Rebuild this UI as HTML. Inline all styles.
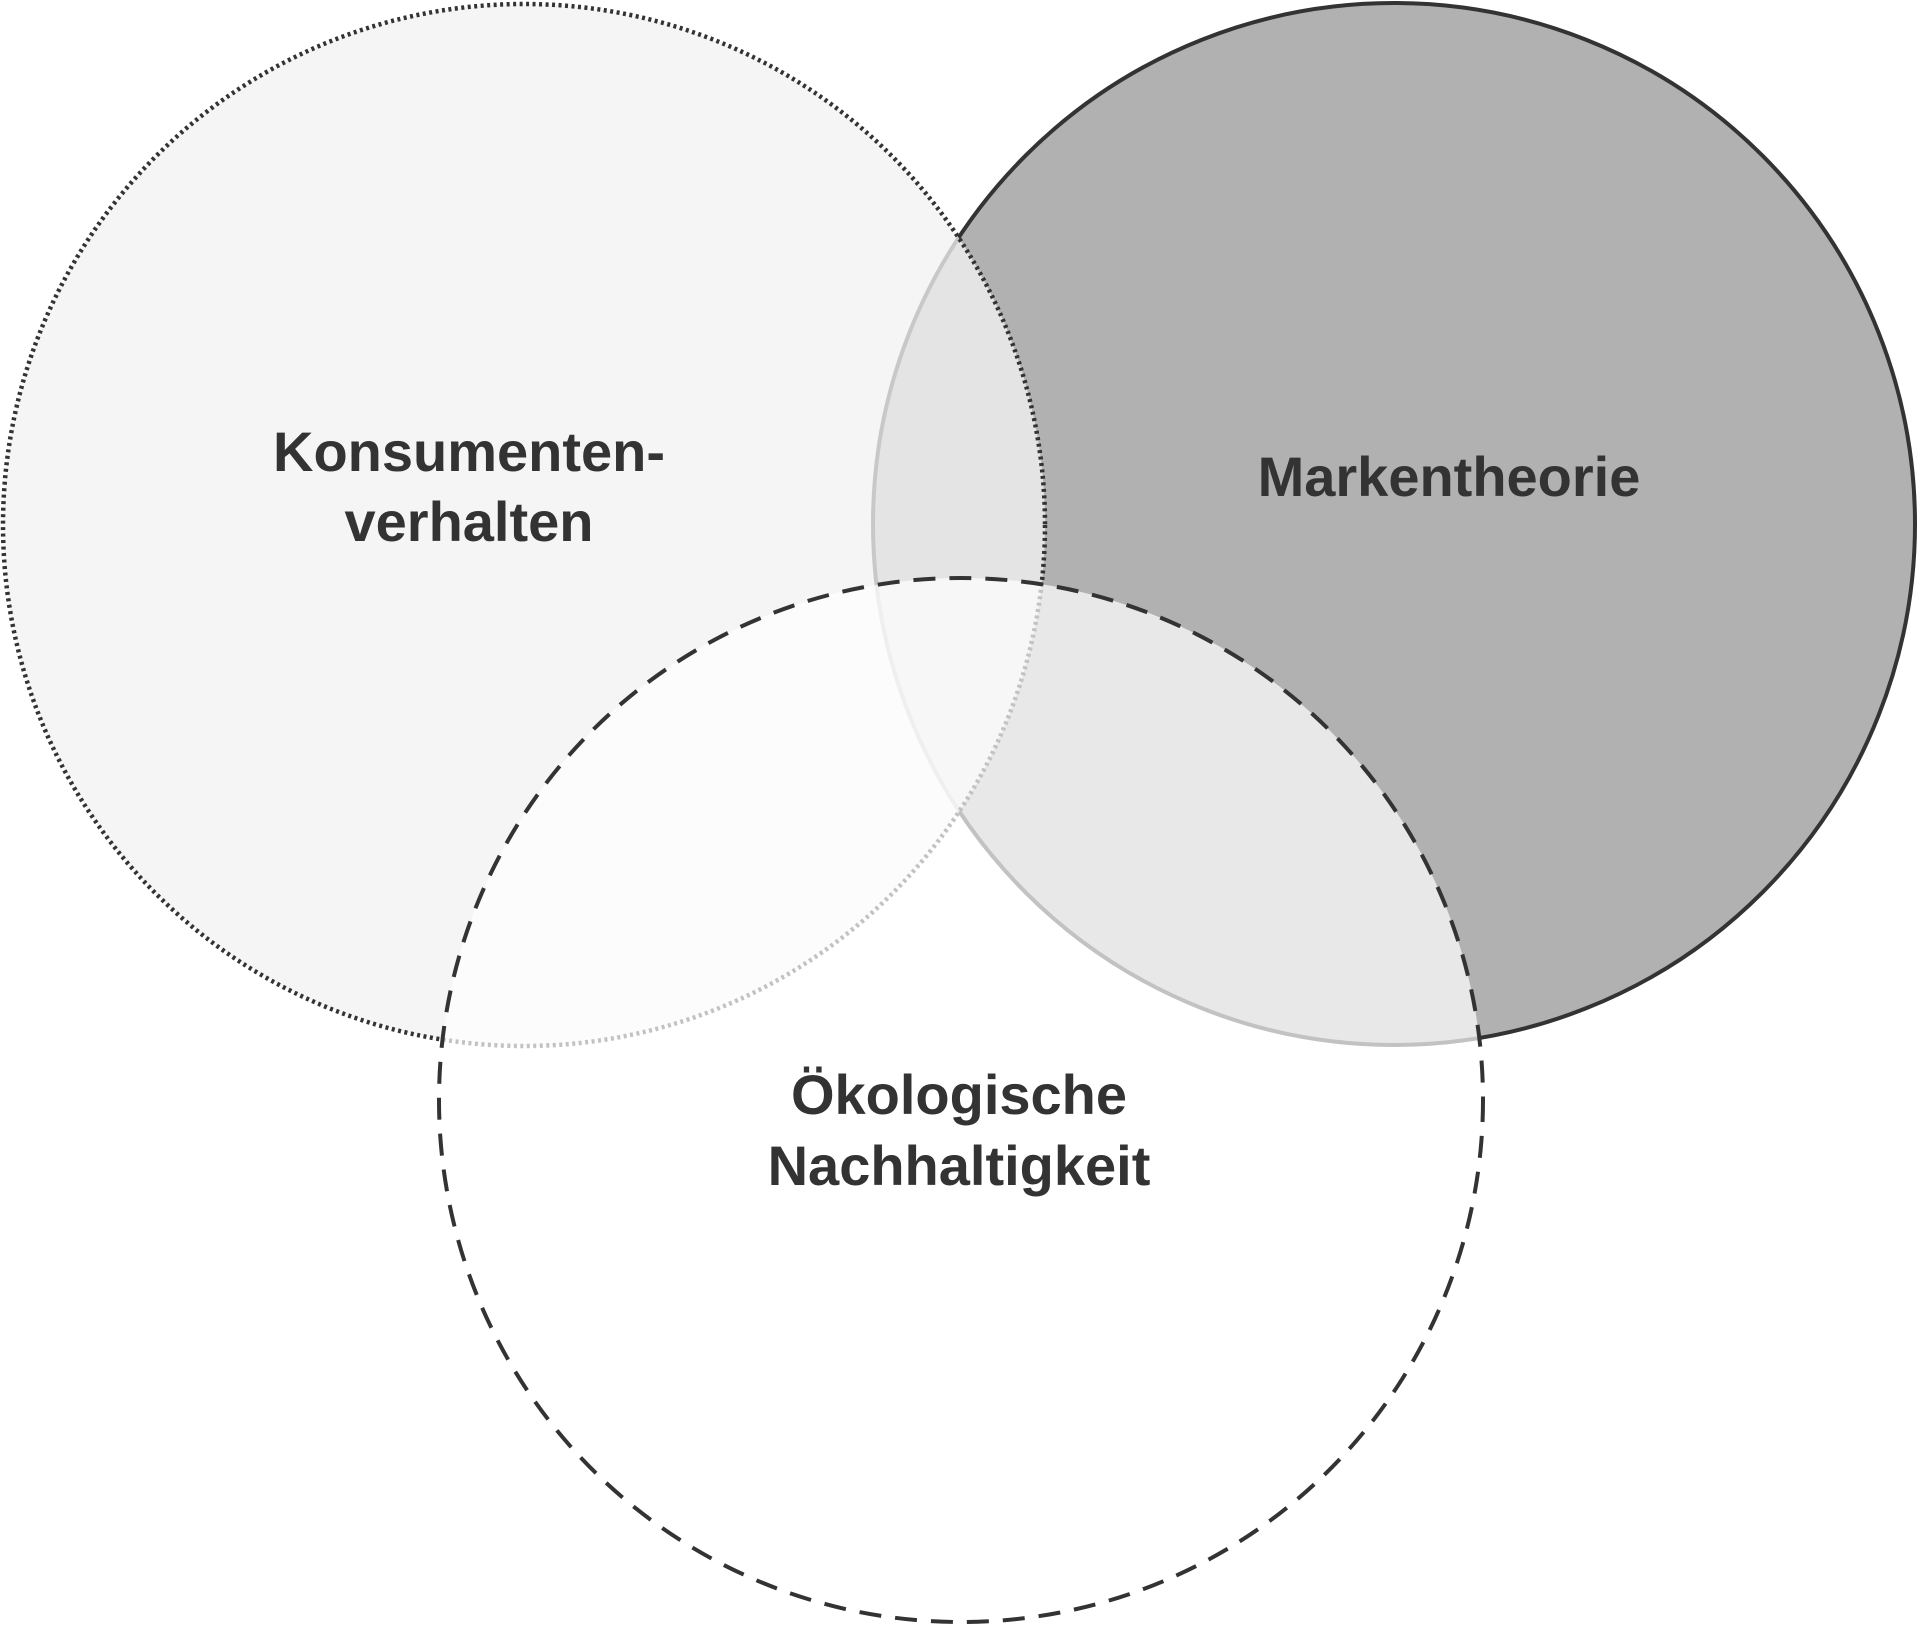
<!DOCTYPE html>
<html><head><meta charset="utf-8"><style>
html,body{margin:0;padding:0;background:#fff;}
svg{display:block;}
text{font-family:"Liberation Sans",sans-serif;font-weight:bold;fill:#333;font-size:56px;text-anchor:middle;}
</style></head><body>
<svg width="1920" height="1626" viewBox="0 0 1920 1626" xmlns="http://www.w3.org/2000/svg">
<circle cx="1394" cy="524" r="521" fill="#b1b1b1" stroke="#333" stroke-width="4"/>
<circle cx="524" cy="525" r="521" fill="#f2f2f2" fill-opacity="0.78"/>
<circle cx="524" cy="525" r="521" fill="none" stroke="#333" stroke-width="4.5" stroke-dasharray="3 3.5"/>
<circle cx="961" cy="1100" r="522" fill="#fff" fill-opacity="0.7"/>
<circle cx="961" cy="1100" r="522" fill="none" stroke="#333" stroke-width="4" stroke-dasharray="22 14"/>
<text x="469" y="471">Konsumenten-</text>
<text x="469" y="541">verhalten</text>
<text x="1449" y="496">Markentheorie</text>
<text x="959" y="1114">Ökologische</text>
<text x="959" y="1185">Nachhaltigkeit</text>
</svg>
</body></html>
